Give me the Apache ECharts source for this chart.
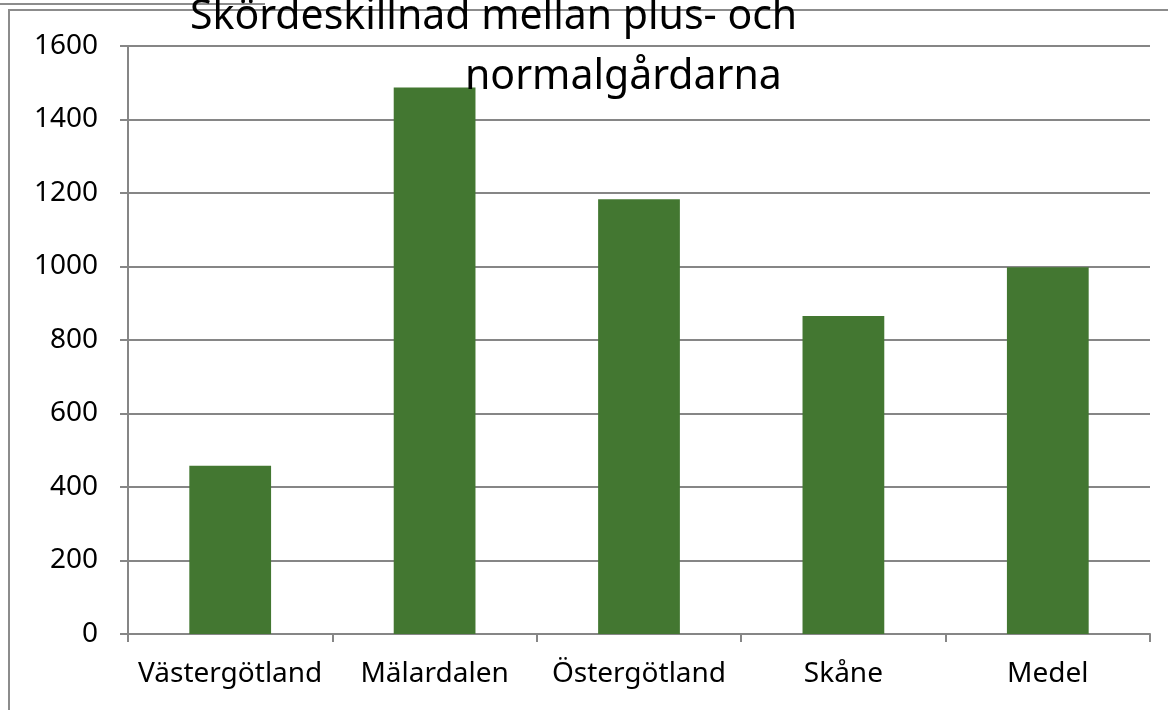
<!DOCTYPE html>
<html>
<head>
<meta charset="utf-8">
<script src="https://cdn.jsdelivr.net/npm/echarts@6/dist/echarts.min.js"></script>
<style>
  html, body { margin: 0; padding: 0; background: #fff; }
  #chart { width: 1168px; height: 710px; }
</style>
</head>
<body>
<div id="chart"></div>
<script>
// data
const categories = ["Västergötland", "Mälardalen", "Östergötland", "Skåne", "Medel"];
const values = [458, 1487, 1183, 865, 998];
const titleLines = ["Skördeskillnad mellan plus- och", "normalgårdarna"];

const font = "Noto Sans";
const axisGray = "#868686";

const myChart = echarts.init(document.getElementById("chart"));
myChart.setOption({
  animation: false,
  title: [
    {
      text: titleLines[0],
      left: 190,
      top: -3,
      padding: 0,
      textStyle: { fontFamily: font, fontSize: 41, fontWeight: "normal", color: "#000" }
    },
    {
      text: titleLines[1],
      left: 465,
      top: 57,
      padding: 0,
      textStyle: { fontFamily: font, fontSize: 41, fontWeight: "normal", color: "#000" }
    }
  ],
  // outer frame lines of the pasted chart
  graphic: [
    {
      type: "line",
      shape: { x1: 0, y1: 4, x2: 265, y2: 4 },
      style: { stroke: "#8c8c8c", lineWidth: 2 },
      z: -1
    },
    {
      type: "rect",
      shape: { x: 9, y: 10, width: 1200, height: 800 },
      style: { fill: null, stroke: "#8c8c8c", lineWidth: 2 },
      z: -1
    }
  ],
  grid: { left: 128, right: 18, top: 46, bottom: 76, containLabel: false },
  xAxis: {
    type: "category",
    data: categories,
    axisLine: { lineStyle: { color: axisGray, width: 2 } },
    axisTick: { show: true, interval: 0, length: 8, lineStyle: { color: axisGray, width: 2 } },
    axisLabel: { interval: 0, hideOverlap: false, fontFamily: font, fontSize: 28, color: "#000", margin: 26 }
  },
  yAxis: {
    type: "value",
    min: 0,
    max: 1600,
    interval: 200,
    axisLine: { show: true, lineStyle: { color: axisGray, width: 2 } },
    axisTick: { show: true, length: 8, lineStyle: { color: axisGray, width: 2 } },
    splitLine: { lineStyle: { color: axisGray, width: 2 } },
    axisLabel: {
      fontFamily: font, fontSize: 28, color: "#000", margin: 30,
      formatter: (v) => String(v)
    }
  },
  series: [
    {
      type: "bar",
      data: values,
      barWidth: "40%",
      itemStyle: { color: "#437731" }
    }
  ]
});
</script>
</body>
</html>
